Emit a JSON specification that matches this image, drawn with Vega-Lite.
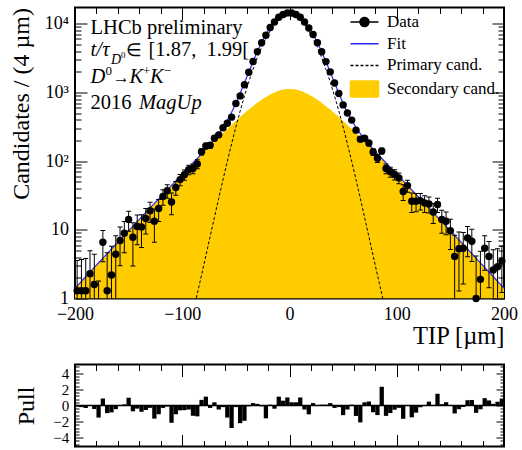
{
  "$schema": "https://vega.github.io/schema/vega-lite/v6.json",
  "padding": {"left": 8, "top": 5.5, "right": 2, "bottom": 2},
  "spacing": 66,
  "bounds": "flush",
  "config": {
    "font": "Liberation Serif",
    "view": {"stroke": "black", "strokeWidth": 2},
    "axis": {"domain": false, "grid": false, "tickColor": "black", "tickWidth": 1, "labelColor": "black", "titleColor": "black", "titleFontWeight": "normal", "labelFont": "Liberation Serif", "titleFont": "Liberation Serif", "labelFontSize": 18, "titleFontSize": 24, "labelOverlap": false, "labelFlush": false, "labelBound": false},
    "legend": {"labelFont": "Liberation Serif", "labelFontSize": 17, "labelColor": "black"}
  },
  "datasets": {
    "leg": [{"s": "Data"}, {"s": "Fit"}, {"s": "Primary cand."}, {"s": "Secondary cand."}],
    "curve": [
      {"x": -200, "fit": 1.42, "sec": 1.42},
      {"x": -198, "fit": 1.53, "sec": 1.53},
      {"x": -194, "fit": 1.78, "sec": 1.78},
      {"x": -190, "fit": 2.08, "sec": 2.08},
      {"x": -186, "fit": 2.43, "sec": 2.43},
      {"x": -182, "fit": 2.84, "sec": 2.84},
      {"x": -178, "fit": 3.31, "sec": 3.31},
      {"x": -174, "fit": 3.86, "sec": 3.86},
      {"x": -170, "fit": 4.5, "sec": 4.5},
      {"x": -166, "fit": 5.25, "sec": 5.25},
      {"x": -162, "fit": 6.12, "sec": 6.12},
      {"x": -158, "fit": 7.14, "sec": 7.14},
      {"x": -154, "fit": 8.32, "sec": 8.32},
      {"x": -150, "fit": 9.7, "sec": 9.7},
      {"x": -146, "fit": 11.3, "sec": 11.3},
      {"x": -142, "fit": 13.2, "sec": 13.2},
      {"x": -138, "fit": 15.3, "sec": 15.3},
      {"x": -134, "fit": 17.9, "sec": 17.9},
      {"x": -130, "fit": 20.8, "sec": 20.8},
      {"x": -126, "fit": 24.2, "sec": 24.2},
      {"x": -122, "fit": 28.2, "sec": 28.2},
      {"x": -118, "fit": 32.8, "sec": 32.8},
      {"x": -114, "fit": 38.1, "sec": 38.1},
      {"x": -110, "fit": 44.3, "sec": 44.3},
      {"x": -106, "fit": 51.5, "sec": 51.5},
      {"x": -102, "fit": 59.9, "sec": 59.8},
      {"x": -98, "fit": 69.6, "sec": 69.4, "prim": 0.2},
      {"x": -94, "fit": 80.9, "sec": 80.5, "prim": 0.35},
      {"x": -90, "fit": 94.0, "sec": 93.4, "prim": 0.63},
      {"x": -86, "fit": 109, "sec": 108, "prim": 1.17},
      {"x": -82, "fit": 127, "sec": 125, "prim": 2.2},
      {"x": -78, "fit": 149, "sec": 145, "prim": 4.18},
      {"x": -74, "fit": 175, "sec": 167, "prim": 7.97},
      {"x": -70, "fit": 208, "sec": 193, "prim": 15.2},
      {"x": -66, "fit": 251, "sec": 222, "prim": 28.7},
      {"x": -62, "fit": 310, "sec": 256, "prim": 53.7},
      {"x": -58, "fit": 393, "sec": 294, "prim": 98.8},
      {"x": -54, "fit": 514, "sec": 336, "prim": 178},
      {"x": -50, "fit": 697, "sec": 384, "prim": 313},
      {"x": -46, "fit": 973, "sec": 438, "prim": 535},
      {"x": -42, "fit": 1381, "sec": 497, "prim": 884},
      {"x": -38, "fit": 1974, "sec": 562, "prim": 1412},
      {"x": -34, "fit": 2801, "sec": 631, "prim": 2170},
      {"x": -30, "fit": 3905, "sec": 705, "prim": 3200},
      {"x": -26, "fit": 5299, "sec": 782, "prim": 4517},
      {"x": -22, "fit": 6957, "sec": 859, "prim": 6098},
      {"x": -18, "fit": 8780, "sec": 933, "prim": 7847},
      {"x": -14, "fit": 10620, "sec": 1000, "prim": 9620},
      {"x": -10, "fit": 12277, "sec": 1057, "prim": 11220},
      {"x": -6, "fit": 13533, "sec": 1098, "prim": 12435},
      {"x": -2, "fit": 14216, "sec": 1119, "prim": 13097},
      {"x": 0, "fit": 14305, "sec": 1122, "prim": 13183},
      {"x": 2, "fit": 14216, "sec": 1119, "prim": 13097},
      {"x": 6, "fit": 13533, "sec": 1098, "prim": 12435},
      {"x": 10, "fit": 12277, "sec": 1057, "prim": 11220},
      {"x": 14, "fit": 10620, "sec": 1000, "prim": 9620},
      {"x": 18, "fit": 8780, "sec": 933, "prim": 7847},
      {"x": 22, "fit": 6957, "sec": 859, "prim": 6098},
      {"x": 26, "fit": 5299, "sec": 782, "prim": 4517},
      {"x": 30, "fit": 3905, "sec": 705, "prim": 3200},
      {"x": 34, "fit": 2801, "sec": 631, "prim": 2170},
      {"x": 38, "fit": 1974, "sec": 562, "prim": 1412},
      {"x": 42, "fit": 1381, "sec": 497, "prim": 884},
      {"x": 46, "fit": 973, "sec": 438, "prim": 535},
      {"x": 50, "fit": 697, "sec": 384, "prim": 313},
      {"x": 54, "fit": 514, "sec": 336, "prim": 178},
      {"x": 58, "fit": 393, "sec": 294, "prim": 98.8},
      {"x": 62, "fit": 310, "sec": 256, "prim": 53.7},
      {"x": 66, "fit": 251, "sec": 222, "prim": 28.7},
      {"x": 70, "fit": 208, "sec": 193, "prim": 15.2},
      {"x": 74, "fit": 175, "sec": 167, "prim": 7.97},
      {"x": 78, "fit": 149, "sec": 145, "prim": 4.18},
      {"x": 82, "fit": 127, "sec": 125, "prim": 2.2},
      {"x": 86, "fit": 109, "sec": 108, "prim": 1.17},
      {"x": 90, "fit": 94.0, "sec": 93.4, "prim": 0.63},
      {"x": 94, "fit": 80.9, "sec": 80.5, "prim": 0.35},
      {"x": 98, "fit": 69.6, "sec": 69.4, "prim": 0.2},
      {"x": 102, "fit": 59.9, "sec": 59.8},
      {"x": 106, "fit": 51.5, "sec": 51.5},
      {"x": 110, "fit": 44.3, "sec": 44.3},
      {"x": 114, "fit": 38.1, "sec": 38.1},
      {"x": 118, "fit": 32.8, "sec": 32.8},
      {"x": 122, "fit": 28.2, "sec": 28.2},
      {"x": 126, "fit": 24.2, "sec": 24.2},
      {"x": 130, "fit": 20.8, "sec": 20.8},
      {"x": 134, "fit": 17.9, "sec": 17.9},
      {"x": 138, "fit": 15.3, "sec": 15.3},
      {"x": 142, "fit": 13.2, "sec": 13.2},
      {"x": 146, "fit": 11.3, "sec": 11.3},
      {"x": 150, "fit": 9.7, "sec": 9.7},
      {"x": 154, "fit": 8.32, "sec": 8.32},
      {"x": 158, "fit": 7.14, "sec": 7.14},
      {"x": 162, "fit": 6.12, "sec": 6.12},
      {"x": 166, "fit": 5.25, "sec": 5.25},
      {"x": 170, "fit": 4.5, "sec": 4.5},
      {"x": 174, "fit": 3.86, "sec": 3.86},
      {"x": 178, "fit": 3.31, "sec": 3.31},
      {"x": 182, "fit": 2.84, "sec": 2.84},
      {"x": 186, "fit": 2.43, "sec": 2.43},
      {"x": 190, "fit": 2.08, "sec": 2.08},
      {"x": 194, "fit": 1.78, "sec": 1.78},
      {"x": 198, "fit": 1.53, "sec": 1.53},
      {"x": 200, "fit": 1.42, "sec": 1.42}
    ],
    "pts": [
      {"x": -198, "xl": -200, "xh": -196, "n": 1.3, "lo": 0.2, "hi": 3.58, "pull": -0.1},
      {"x": -194, "xl": -196, "xh": -192, "n": 1.3, "lo": 0.2, "hi": 3.7, "pull": -0.2},
      {"x": -190, "xl": -192, "xh": -188, "n": 1.3, "lo": 0.2, "hi": 3.83, "pull": -0.31},
      {"x": -186, "xl": -188, "xh": -184, "n": 2.3, "lo": 0.2, "hi": 4.97, "pull": -0.05},
      {"x": -182, "xl": -184, "xh": -180, "n": 1.6, "lo": 0.2, "hi": 4.42, "pull": -0.44},
      {"x": -178, "xl": -180, "xh": -176, "n": null, "lo": 0.2, "hi": 1.8, "pull": -1.5},
      {"x": -174, "xl": -176, "xh": -172, "n": 6.6, "lo": 3.44, "hi": 9.76, "pull": 0.87},
      {"x": -170, "xl": -172, "xh": -168, "n": 1.3, "lo": 0.2, "hi": 4.65, "pull": -0.95},
      {"x": -166, "xl": -168, "xh": -164, "n": 2.2, "lo": 0.2, "hi": 5.75, "pull": -0.86},
      {"x": -162, "xl": -164, "xh": -160, "n": 4.4, "lo": 0.63, "hi": 8.17, "pull": -0.46},
      {"x": -158, "xl": -160, "xh": -156, "n": 7.0, "lo": 2.99, "hi": 11.0, "pull": -0.03},
      {"x": -154, "xl": -156, "xh": -152, "n": 8.9, "lo": 4.64, "hi": 13.16, "pull": 0.14},
      {"x": -150, "xl": -152, "xh": -148, "n": 14.1, "lo": 9.56, "hi": 18.64, "pull": 0.97},
      {"x": -146, "xl": -148, "xh": -144, "n": 7.8, "lo": 2.97, "hi": 12.63, "pull": -0.72},
      {"x": -142, "xl": -144, "xh": -140, "n": 11.2, "lo": 6.04, "hi": 16.36, "pull": -0.39},
      {"x": -138, "xl": -140, "xh": -136, "n": 11.0, "lo": 5.51, "hi": 16.49, "pull": -0.78},
      {"x": -134, "xl": -136, "xh": -132, "n": 14.6, "lo": 8.72, "hi": 20.48, "pull": -0.56},
      {"x": -130, "xl": -132, "xh": -128, "n": 19.0, "lo": 12.73, "hi": 25.27, "pull": -0.29},
      {"x": -126, "xl": -128, "xh": -124, "n": 13.3, "lo": 6.6, "hi": 20.0, "pull": -1.63},
      {"x": -122, "xl": -124, "xh": -120, "n": 20.4, "lo": 13.23, "hi": 27.57, "pull": -1.09},
      {"x": -118, "xl": -120, "xh": -116, "n": 30.5, "lo": 22.83, "hi": 38.17, "pull": -0.3},
      {"x": -114, "xl": -116, "xh": -112, "n": 37.0, "lo": 28.79, "hi": 45.21, "pull": -0.13},
      {"x": -110, "xl": -112, "xh": -108, "n": 25.4, "lo": 16.61, "hi": 34.19, "pull": -2.15},
      {"x": -106, "xl": -108, "xh": -104, "n": 41.2, "lo": 31.79, "hi": 50.61, "pull": -1.09},
      {"x": -102, "xl": -104, "xh": -100, "n": 53.8, "lo": 43.71, "hi": 63.89, "pull": -0.6},
      {"x": -98, "xl": -100, "xh": -96, "n": 63.3, "lo": 52.49, "hi": 74.11, "pull": -0.58},
      {"x": -94, "xl": -96, "xh": -92, "n": 75.1, "lo": 63.51, "hi": 86.69, "pull": -0.5},
      {"x": -90, "xl": -92, "xh": -88, "n": 78.1, "lo": 65.67, "hi": 90.53, "pull": -1.28},
      {"x": -86, "xl": -88, "xh": -84, "n": 91.0, "lo": 77.67, "hi": 104.33, "pull": -1.35},
      {"x": -82, "xl": -84, "xh": -80, "n": 137, "lo": 122.68, "hi": 151.32, "pull": 0.7},
      {"x": -78, "xl": -80, "xh": -76, "n": 166, "lo": 150.6, "hi": 181.4, "pull": 1.1},
      {"x": -74, "xl": -76, "xh": -72, "n": 170, "lo": 153.3, "hi": 186.7, "pull": -0.3},
      {"x": -70, "xl": -72, "xh": -68, "n": 215, "lo": 196.9, "hi": 233.1, "pull": 0.4},
      {"x": -66, "xl": -68, "xh": -64, "n": 241, "lo": 221.2, "hi": 260.8, "pull": -0.5},
      {"x": -62, "xl": -64, "xh": -60, "n": 306, "lo": 284.1, "hi": 327.9, "pull": -0.2},
      {"x": -58, "xl": -60, "xh": -56, "n": 356, "lo": 331.4, "hi": 380.6, "pull": -1.5},
      {"x": -54, "xl": -56, "xh": -52, "n": 436, "lo": 408, "hi": 464, "pull": -2.8},
      {"x": -50, "xl": -52, "xh": -48, "n": 690, "lo": 657.5, "hi": 722.5, "pull": -0.2},
      {"x": -46, "xl": -48, "xh": -44, "n": 889, "lo": 850.8, "hi": 927.2, "pull": -2.2},
      {"x": -42, "xl": -44, "xh": -40, "n": 1295, "lo": 1249.6, "hi": 1340.4, "pull": -1.9},
      {"x": -38, "xl": -40, "xh": -36, "n": 1969, "lo": 1914.9, "hi": 2023.1, "pull": -0.1},
      {"x": -34, "xl": -36, "xh": -32, "n": 2820, "lo": 2755.7, "hi": 2884.3, "pull": 0.3},
      {"x": -30, "xl": -32, "xh": -28, "n": 3920, "lo": 3844, "hi": 3996, "pull": 0.2},
      {"x": -26, "xl": -28, "xh": -24, "n": 5290, "lo": 5202, "hi": 5378, "pull": -0.1},
      {"x": -22, "xl": -24, "xh": -20, "n": 6796, "lo": 6695, "hi": 6897, "pull": -1.6},
      {"x": -18, "xl": -20, "xh": -16, "n": 8791, "lo": 8678, "hi": 8904, "pull": 0.1},
      {"x": -14, "xl": -16, "xh": -12, "n": 10570, "lo": 10446, "hi": 10695, "pull": -0.4},
      {"x": -10, "xl": -12, "xh": -8, "n": 12424, "lo": 12290, "hi": 12558, "pull": 1.1},
      {"x": -6, "xl": -8, "xh": -4, "n": 13617, "lo": 13477, "hi": 13757, "pull": 0.6},
      {"x": -2, "xl": -4, "xh": 0, "n": 14360, "lo": 14216, "hi": 14504, "pull": 1.0},
      {"x": 2, "xl": 0, "xh": 4, "n": 14274, "lo": 14130, "hi": 14418, "pull": 0.4},
      {"x": 6, "xl": 4, "xh": 8, "n": 13589, "lo": 13449, "hi": 13729, "pull": 0.4},
      {"x": 10, "xl": 8, "xh": 12, "n": 12411, "lo": 12277, "hi": 12545, "pull": 1.0},
      {"x": 14, "xl": 12, "xh": 16, "n": 10558, "lo": 10434, "hi": 10683, "pull": -0.5},
      {"x": 18, "xl": 16, "xh": 20, "n": 8655, "lo": 8542, "hi": 8768, "pull": -1.1},
      {"x": 22, "xl": 20, "xh": 24, "n": 6987, "lo": 6886, "hi": 7088, "pull": 0.3},
      {"x": 26, "xl": 24, "xh": 28, "n": 5299, "lo": 5211, "hi": 5387, "pull": 0.0},
      {"x": 30, "xl": 28, "xh": 32, "n": 3913, "lo": 3837, "hi": 3989, "pull": 0.1},
      {"x": 34, "xl": 32, "xh": 36, "n": 2807, "lo": 2743, "hi": 2871, "pull": 0.1},
      {"x": 38, "xl": 36, "xh": 40, "n": 1990, "lo": 1936, "hi": 2044, "pull": 0.3},
      {"x": 42, "xl": 40, "xh": 44, "n": 1367, "lo": 1322, "hi": 1412, "pull": -0.3},
      {"x": 46, "xl": 44, "xh": 48, "n": 965, "lo": 927, "hi": 1003, "pull": -0.2},
      {"x": 50, "xl": 48, "xh": 52, "n": 658, "lo": 625.5, "hi": 690.5, "pull": -1.2},
      {"x": 54, "xl": 52, "xh": 56, "n": 500, "lo": 472, "hi": 528, "pull": -0.5},
      {"x": 58, "xl": 56, "xh": 60, "n": 395, "lo": 370.4, "hi": 419.6, "pull": 0.1},
      {"x": 62, "xl": 60, "xh": 64, "n": 282, "lo": 260.1, "hi": 303.9, "pull": -1.3},
      {"x": 66, "xl": 64, "xh": 68, "n": 209, "lo": 189.2, "hi": 228.8, "pull": -2.1},
      {"x": 70, "xl": 68, "xh": 72, "n": 215, "lo": 196.9, "hi": 233.1, "pull": 0.4},
      {"x": 74, "xl": 72, "xh": 76, "n": 183, "lo": 166.3, "hi": 199.7, "pull": 0.5},
      {"x": 78, "xl": 76, "xh": 80, "n": 136, "lo": 120.6, "hi": 151.4, "pull": -0.84},
      {"x": 82, "xl": 80, "xh": 84, "n": 110, "lo": 95.68, "hi": 124.32, "pull": -1.19},
      {"x": 86, "xl": 84, "xh": 88, "n": 140, "lo": 126.67, "hi": 153.33, "pull": 2.33},
      {"x": 90, "xl": 88, "xh": 92, "n": 78, "lo": 65.57, "hi": 90.43, "pull": -1.29},
      {"x": 94, "xl": 92, "xh": 96, "n": 70, "lo": 58.41, "hi": 81.59, "pull": -0.94},
      {"x": 98, "xl": 96, "xh": 100, "n": 64, "lo": 53.19, "hi": 74.81, "pull": -0.52},
      {"x": 102, "xl": 100, "xh": 104, "n": 57, "lo": 46.91, "hi": 67.09, "pull": -0.29},
      {"x": 106, "xl": 104, "xh": 108, "n": 36, "lo": 26.59, "hi": 45.41, "pull": -1.65},
      {"x": 110, "xl": 108, "xh": 112, "n": 44, "lo": 35.21, "hi": 52.79, "pull": -0.03},
      {"x": 114, "xl": 112, "xh": 116, "n": 26, "lo": 17.79, "hi": 34.21, "pull": -1.47},
      {"x": 118, "xl": 116, "xh": 120, "n": 26, "lo": 18.33, "hi": 33.67, "pull": -0.89},
      {"x": 122, "xl": 120, "xh": 124, "n": 26.6, "lo": 19.43, "hi": 33.77, "pull": -0.22},
      {"x": 126, "xl": 124, "xh": 128, "n": 24.5, "lo": 17.8, "hi": 31.2, "pull": 0.04},
      {"x": 130, "xl": 128, "xh": 132, "n": 23.8, "lo": 17.53, "hi": 30.07, "pull": 0.48},
      {"x": 134, "xl": 132, "xh": 136, "n": 18.2, "lo": 12.32, "hi": 24.08, "pull": 0.05},
      {"x": 138, "xl": 136, "xh": 140, "n": 23.3, "lo": 17.81, "hi": 28.79, "pull": 1.46},
      {"x": 142, "xl": 140, "xh": 144, "n": 14.1, "lo": 8.94, "hi": 19.26, "pull": 0.17},
      {"x": 146, "xl": 144, "xh": 148, "n": 13.3, "lo": 8.47, "hi": 18.13, "pull": 0.41},
      {"x": 150, "xl": 148, "xh": 152, "n": 9.7, "lo": 5.16, "hi": 14.24, "pull": 0.0},
      {"x": 154, "xl": 152, "xh": 156, "n": 4.1, "lo": 0.2, "hi": 8.36, "pull": -0.99},
      {"x": 158, "xl": 156, "xh": 160, "n": 5.3, "lo": 1.29, "hi": 9.31, "pull": -0.46},
      {"x": 162, "xl": 160, "xh": 164, "n": 5.4, "lo": 1.63, "hi": 9.17, "pull": -0.19},
      {"x": 166, "xl": 164, "xh": 168, "n": 7.6, "lo": 4.05, "hi": 11.15, "pull": 0.66},
      {"x": 170, "xl": 168, "xh": 172, "n": 6.8, "lo": 3.45, "hi": 10.15, "pull": 0.69},
      {"x": 174, "xl": 172, "xh": 176, "n": 1.0, "lo": 0.2, "hi": 4.16, "pull": -0.91},
      {"x": 178, "xl": 176, "xh": 180, "n": 1.9, "lo": 0.2, "hi": 4.88, "pull": -0.47},
      {"x": 182, "xl": 180, "xh": 184, "n": 5.4, "lo": 2.58, "hi": 8.22, "pull": 0.91},
      {"x": 186, "xl": 184, "xh": 188, "n": 4.1, "lo": 1.43, "hi": 6.77, "pull": 0.63},
      {"x": 190, "xl": 188, "xh": 192, "n": 2.6, "lo": 0.2, "hi": 5.13, "pull": 0.21},
      {"x": 194, "xl": 192, "xh": 196, "n": 2.9, "lo": 0.5, "hi": 5.3, "pull": 0.47},
      {"x": 198, "xl": 196, "xh": 200, "n": 3.5, "lo": 1.22, "hi": 5.78, "pull": 0.86}
    ]
  },
  "vconcat": [
    {
      "width": 429,
      "height": 291,
      "layer": [
        {
          "data": {"name": "curve"},
          "mark": {"type": "area", "color": "#ffcc00", "clip": true, "interpolate": "monotone"},
          "encoding": {
            "x": {"field": "x", "type": "quantitative", "scale": {"domain": [-200, 200], "nice": false, "zero": false},
              "axis": {"orient": "bottom", "values": [-200,-180,-160,-140,-120,-100,-80,-60,-40,-20,0,20,40,60,80,100,120,140,160,180,200],
                "labelExpr": "datum.value % 100 == 0 ? datum.label : ''",
                "tickSize": {"condition": {"test": "datum.value % 100 == 0", "value": -12}, "value": -6},
                "labelPadding": 19, "title": "TIP [µm]", "titleAnchor": "end", "titlePadding": -5, "titleFontSize": 24.5}},
            "y": {"field": "sec", "type": "quantitative", "scale": {"type": "log", "domain": [1, 17200], "nice": false},
              "axis": {"orient": "left", "values": [1,2,3,4,5,6,7,8,9,10,20,30,40,50,60,70,80,90,100,200,300,400,500,600,700,800,900,1000,2000,3000,4000,5000,6000,7000,8000,9000,10000],
                "labelExpr": "datum.value == 10000 ? '10⁴' : datum.value == 1000 ? '10³' : datum.value == 100 ? '10²' : datum.value == 10 ? '10' : datum.value == 1 ? '1' : ''",
                "tickSize": {"condition": {"test": "datum.value == 1 || datum.value == 10 || datum.value == 100 || datum.value == 1000 || datum.value == 10000", "value": -12}, "value": -6},
                "labelPadding": 18.5, "title": "Candidates / (4 µm)", "titleAnchor": "end", "titlePadding": 11}},
            "y2": {"datum": 1}
          }
        },
        {
          "data": {"name": "curve"},
          "mark": {"type": "line", "color": "#2a2aff", "strokeWidth": 1.2, "clip": true, "interpolate": "monotone"},
          "encoding": {
            "x": {"field": "x", "type": "quantitative",
              "axis": {"orient": "top", "values": [-200,-180,-160,-140,-120,-100,-80,-60,-40,-20,0,20,40,60,80,100,120,140,160,180,200], "labels": false, "title": null,
                "tickSize": {"condition": {"test": "datum.value % 100 == 0", "value": -12}, "value": -6}}},
            "y": {"field": "fit", "type": "quantitative",
              "axis": {"orient": "right", "values": [1,2,3,4,5,6,7,8,9,10,20,30,40,50,60,70,80,90,100,200,300,400,500,600,700,800,900,1000,2000,3000,4000,5000,6000,7000,8000,9000,10000], "labels": false, "title": null,
                "tickSize": {"condition": {"test": "datum.value == 1 || datum.value == 10 || datum.value == 100 || datum.value == 1000 || datum.value == 10000", "value": -12}, "value": -6}}}
          }
        },
        {
          "data": {"name": "curve"},
          "mark": {"type": "line", "color": "black", "strokeWidth": 1, "strokeDash": [3, 2], "clip": true, "interpolate": "monotone"},
          "encoding": {
            "x": {"field": "x", "type": "quantitative", "axis": null},
            "y": {"field": "prim", "type": "quantitative", "axis": null}
          }
        },
        {
          "data": {"name": "pts"},
          "mark": {"type": "rule", "color": "black", "strokeWidth": 1, "clip": true},
          "encoding": {
            "x": {"field": "x", "type": "quantitative", "axis": null},
            "y": {"field": "lo", "type": "quantitative", "axis": null},
            "y2": {"field": "hi"}
          }
        },
        {
          "data": {"name": "pts"},
          "mark": {"type": "tick", "orient": "horizontal", "size": 5, "thickness": 1, "color": "black", "opacity": 1, "clip": true},
          "encoding": {
            "x": {"field": "x", "type": "quantitative", "axis": null},
            "y": {"field": "lo", "type": "quantitative", "axis": null}
          }
        },
        {
          "data": {"name": "pts"},
          "mark": {"type": "tick", "orient": "horizontal", "size": 5, "thickness": 1, "color": "black", "opacity": 1, "clip": true},
          "encoding": {
            "x": {"field": "x", "type": "quantitative", "axis": null},
            "y": {"field": "hi", "type": "quantitative", "axis": null}
          }
        },
        {
          "data": {"name": "pts"},
          "mark": {"type": "point", "filled": true, "size": 55, "color": "black", "opacity": 1},
          "encoding": {
            "x": {"field": "x", "type": "quantitative", "axis": null},
            "y": {"field": "n", "type": "quantitative", "axis": null}
          }
        },
        {
          "data": {"name": "leg"},
          "transform": [{"filter": "false"}],
          "mark": {"type": "point", "opacity": 1},
          "encoding": {
            "fill": {"field": "s", "type": "nominal",
              "scale": {"domain": ["Data", "Fit", "Primary cand.", "Secondary cand."], "range": ["black", "white", "white", "#ffcc00"]},
              "legend": {"orient": "none", "legendX": 281, "legendY": 6, "title": null, "labelFont": "Liberation Serif", "labelFontSize": 17, "labelColor": "black", "symbolSize": 100, "symbolStrokeWidth": 1.5, "rowPadding": 3.7, "labelOffset": 14, "padding": 0}},
            "stroke": {"field": "s", "type": "nominal",
              "scale": {"domain": ["Data", "Fit", "Primary cand.", "Secondary cand."], "range": ["black", "#2a2aff", "black", "#ffcc00"]},
              "legend": {"orient": "none", "legendX": 281, "legendY": 6, "title": null, "labelFont": "Liberation Serif", "labelFontSize": 17, "labelColor": "black", "symbolSize": 100, "symbolStrokeWidth": 1.5, "rowPadding": 3.7, "labelOffset": 14, "padding": 0}},
            "shape": {"field": "s", "type": "nominal",
              "scale": {"domain": ["Data", "Fit", "Primary cand.", "Secondary cand."], "range": ["M-2.8,0H2.8M0.9,0A0.9,0.9,0,1,1,-0.9,0A0.9,0.9,0,1,1,0.9,0Z", "M-2.8,0H2.8", "M-2.8,0H2.8", "M-2.8,-1.6H2.8V1.6H-2.8Z"]},
              "legend": {"orient": "none", "legendX": 281, "legendY": 6, "title": null, "labelFont": "Liberation Serif", "labelFontSize": 17, "labelColor": "black", "symbolSize": 100, "symbolStrokeWidth": 1.5, "rowPadding": 3.7, "labelOffset": 14, "padding": 0}},
            "strokeDash": {"field": "s", "type": "nominal",
              "scale": {"domain": ["Data", "Fit", "Primary cand.", "Secondary cand."], "range": [[1, 0], [1, 0], [3, 2], [1, 0]]},
              "legend": {"orient": "none", "legendX": 281, "legendY": 6, "title": null, "labelFont": "Liberation Serif", "labelFontSize": 17, "labelColor": "black", "symbolSize": 100, "symbolStrokeWidth": 1.5, "rowPadding": 3.7, "labelOffset": 14, "padding": 0}}
          }
        },
        {
          "data": {"values": [{}]},
          "mark": {"type": "text", "text": "LHCb preliminary", "align": "left", "baseline": "alphabetic", "fontSize": 20.5, "color": "black"},
          "encoding": {"x": {"datum": -185.5, "type": "quantitative", "axis": null}, "y": {"datum": 7008, "type": "quantitative", "axis": null}}
        },
        {
          "data": {"values": [{}]},
          "mark": {"type": "text", "text": "t/", "align": "left", "baseline": "alphabetic", "fontSize": 20.5, "fontStyle": "italic", "color": "black"},
          "encoding": {"x": {"datum": -185.5, "type": "quantitative", "axis": null}, "y": {"datum": 3382, "type": "quantitative", "axis": null}}
        },
        {
          "data": {"values": [{}]},
          "mark": {"type": "text", "text": "τ", "align": "left", "baseline": "alphabetic", "fontSize": 20.5, "fontStyle": "italic", "color": "black"},
          "encoding": {"x": {"datum": -174.5, "type": "quantitative", "axis": null}, "y": {"datum": 3382, "type": "quantitative", "axis": null}}
        },
        {
          "data": {"values": [{}]},
          "mark": {"type": "text", "text": "D", "align": "left", "baseline": "alphabetic", "fontSize": 14, "fontStyle": "italic", "color": "black"},
          "encoding": {"x": {"datum": -166.4, "type": "quantitative", "axis": null}, "y": {"datum": 2587, "type": "quantitative", "axis": null}}
        },
        {
          "data": {"values": [{}]},
          "mark": {"type": "text", "text": "0", "align": "left", "baseline": "alphabetic", "fontSize": 9, "color": "black"},
          "encoding": {"x": {"datum": -157.2, "type": "quantitative", "axis": null}, "y": {"datum": 3162, "type": "quantitative", "axis": null}}
        },
        {
          "data": {"values": [{}]},
          "mark": {"type": "text", "text": "∈", "align": "left", "baseline": "alphabetic", "fontSize": 18, "color": "black"},
          "encoding": {"x": {"datum": -152.4, "type": "quantitative", "axis": null}, "y": {"datum": 3382, "type": "quantitative", "axis": null}}
        },
        {
          "data": {"values": [{}]},
          "mark": {"type": "text", "text": "[1.87,", "align": "left", "baseline": "alphabetic", "fontSize": 20.5, "color": "black"},
          "encoding": {"x": {"datum": -131.5, "type": "quantitative", "axis": null}, "y": {"datum": 3382, "type": "quantitative", "axis": null}}
        },
        {
          "data": {"values": [{}]},
          "mark": {"type": "text", "text": "1.99[", "align": "left", "baseline": "alphabetic", "fontSize": 20.5, "color": "black"},
          "encoding": {"x": {"datum": -77.5, "type": "quantitative", "axis": null}, "y": {"datum": 3382, "type": "quantitative", "axis": null}}
        },
        {
          "data": {"values": [{}]},
          "mark": {"type": "text", "text": "D", "align": "left", "baseline": "alphabetic", "fontSize": 20.5, "fontStyle": "italic", "color": "black"},
          "encoding": {"x": {"datum": -185.5, "type": "quantitative", "axis": null}, "y": {"datum": 1367, "type": "quantitative", "axis": null}}
        },
        {
          "data": {"values": [{}]},
          "mark": {"type": "text", "text": "0", "align": "left", "baseline": "alphabetic", "fontSize": 13, "color": "black"},
          "encoding": {"x": {"datum": -171.5, "type": "quantitative", "axis": null}, "y": {"datum": 1786, "type": "quantitative", "axis": null}}
        },
        {
          "data": {"values": [{}]},
          "mark": {"type": "text", "text": "→", "align": "left", "baseline": "alphabetic", "fontSize": 17, "color": "black"},
          "encoding": {"x": {"datum": -164.8, "type": "quantitative", "axis": null}, "y": {"datum": 1367, "type": "quantitative", "axis": null}}
        },
        {
          "data": {"values": [{}]},
          "mark": {"type": "text", "text": "K", "align": "left", "baseline": "alphabetic", "fontSize": 20.5, "fontStyle": "italic", "color": "black"},
          "encoding": {"x": {"datum": -149.3, "type": "quantitative", "axis": null}, "y": {"datum": 1367, "type": "quantitative", "axis": null}}
        },
        {
          "data": {"values": [{}]},
          "mark": {"type": "text", "text": "+", "align": "left", "baseline": "alphabetic", "fontSize": 13, "color": "black"},
          "encoding": {"x": {"datum": -136.6, "type": "quantitative", "axis": null}, "y": {"datum": 1786, "type": "quantitative", "axis": null}}
        },
        {
          "data": {"values": [{}]},
          "mark": {"type": "text", "text": "K", "align": "left", "baseline": "alphabetic", "fontSize": 20.5, "fontStyle": "italic", "color": "black"},
          "encoding": {"x": {"datum": -130, "type": "quantitative", "axis": null}, "y": {"datum": 1367, "type": "quantitative", "axis": null}}
        },
        {
          "data": {"values": [{}]},
          "mark": {"type": "text", "text": "−", "align": "left", "baseline": "alphabetic", "fontSize": 13, "color": "black"},
          "encoding": {"x": {"datum": -117.2, "type": "quantitative", "axis": null}, "y": {"datum": 1786, "type": "quantitative", "axis": null}}
        },
        {
          "data": {"values": [{}]},
          "mark": {"type": "text", "text": "2016", "align": "left", "baseline": "alphabetic", "fontSize": 20.5, "color": "black"},
          "encoding": {"x": {"datum": -185.5, "type": "quantitative", "axis": null}, "y": {"datum": 565, "type": "quantitative", "axis": null}}
        },
        {
          "data": {"values": [{}]},
          "mark": {"type": "text", "text": "MagUp", "align": "left", "baseline": "alphabetic", "fontSize": 20.5, "fontStyle": "italic", "color": "black"},
          "encoding": {"x": {"datum": -140.3, "type": "quantitative", "axis": null}, "y": {"datum": 565, "type": "quantitative", "axis": null}}
        }
      ],
      "resolve": {"axis": {"x": "independent", "y": "independent"}}
    },
    {
      "width": 429,
      "height": 82,
      "layer": [
        {
          "data": {"name": "pts"},
          "mark": {"type": "rect", "color": "black"},
          "encoding": {
            "x": {"field": "xl", "type": "quantitative", "scale": {"domain": [-200, 200], "nice": false, "zero": false},
              "axis": {"orient": "bottom", "values": [-200,-180,-160,-140,-120,-100,-80,-60,-40,-20,0,20,40,60,80,100,120,140,160,180,200], "labels": false, "title": null,
                "tickSize": {"condition": {"test": "datum.value % 100 == 0", "value": -12}, "value": -6}}},
            "x2": {"field": "xh"},
            "y": {"field": "pull", "type": "quantitative", "scale": {"domain": [-5.1, 5.1], "nice": false, "zero": false},
              "axis": {"orient": "left", "values": [-4.8,-4.4,-4,-3.6,-3.2,-2.8,-2.4,-2,-1.6,-1.2,-0.8,-0.4,0,0.4,0.8,1.2,1.6,2,2.4,2.8,3.2,3.6,4,4.4,4.8],
                "labelExpr": "datum.value == 4 ? '4' : datum.value == 2 ? '2' : datum.value == 0 ? '0' : datum.value == -2 ? '−2' : datum.value == -4 ? '−4' : ''",
                "tickSize": {"condition": {"test": "datum.value == 4 || datum.value == 2 || datum.value == 0 || datum.value == -2 || datum.value == -4", "value": -8}, "value": -4},
                "labelFontSize": 15, "labelPadding": 14.3, "title": "Pull", "titlePadding": 14}},
            "y2": {"datum": 0}
          }
        },
        {
          "data": {"values": [{}]},
          "mark": {"type": "rule", "color": "black", "strokeWidth": 1.5},
          "encoding": {
            "x": {"datum": -200, "type": "quantitative",
              "axis": {"orient": "top", "values": [-200,-180,-160,-140,-120,-100,-80,-60,-40,-20,0,20,40,60,80,100,120,140,160,180,200], "labels": false, "title": null,
                "tickSize": {"condition": {"test": "datum.value % 100 == 0", "value": -12}, "value": -6}}},
            "x2": {"datum": 200},
            "y": {"datum": 0, "type": "quantitative",
              "axis": {"orient": "right", "values": [-4.8,-4.4,-4,-3.6,-3.2,-2.8,-2.4,-2,-1.6,-1.2,-0.8,-0.4,0,0.4,0.8,1.2,1.6,2,2.4,2.8,3.2,3.6,4,4.4,4.8], "labels": false, "title": null,
                "tickSize": {"condition": {"test": "datum.value == 4 || datum.value == 2 || datum.value == 0 || datum.value == -2 || datum.value == -4", "value": -8}, "value": -4}}}
          }
        }
      ],
      "resolve": {"axis": {"x": "independent", "y": "independent"}}
    }
  ]
}
